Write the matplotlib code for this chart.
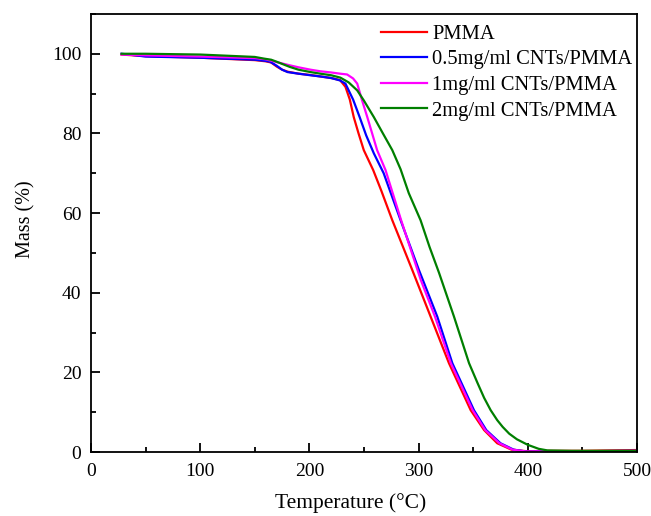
#!/usr/bin/env python3
"""TGA curves of PMMA and CNTs/PMMA composites."""

import matplotlib

matplotlib.use("Agg")
import matplotlib.pyplot as plt
from matplotlib.ticker import MultipleLocator

plt.rcParams["font.family"] = ["Liberation Serif", "DejaVu Serif"]

# PMMA
t_pmma = [28, 50, 100, 150, 160, 165, 170, 175, 180, 190, 200, 210, 220, 228, 233, 237,
          240.6, 245, 249.8, 258.4, 266, 275.9, 285, 294.2, 311, 327.8, 347.7, 360, 372,
          385, 399, 420, 450, 500]
m_pmma = [99.8, 99.4, 99.0, 98.4, 98.1, 97.8, 96.8, 96.0, 95.5, 95.0, 94.7, 94.3, 93.9,
          93.4, 91.7, 88.5, 84.1, 80.0, 75.8, 70.8, 65.5, 58.2, 52.0, 45.7, 34.0, 22.3,
          10.5, 5.5, 2.2, 0.6, 0.2, 0.3, 0.3, 0.5]

# 0.5 mg/ml CNTs/PMMA
t_05 = [28, 50, 100, 150, 160, 164, 170, 175, 180, 190, 201, 210, 220, 228, 233, 240, 246,
        252, 259, 268, 283.5, 300.3, 317.1, 330.9, 350.7, 362, 375, 387, 399, 420, 450, 500]
m_05 = [100.0, 99.3, 99.0, 98.5, 98.2, 98.0, 97.0, 96.0, 95.4, 95.0, 94.6, 94.3, 93.9,
        93.3, 92.5, 88.5, 84.1, 79.5, 75.0, 70.0, 58.2, 45.7, 34.0, 22.3, 10.5, 5.5, 2.2,
        0.6, 0.1, 0.2, 0.2, 0.3]

# 1 mg/ml CNTs/PMMA
t_1 = [28, 50, 100, 150, 160, 170, 182, 190, 201, 210, 220, 228, 234.5, 240, 243.8, 248,
       253, 262, 269.7, 284, 302, 315, 329.5, 349.5, 361, 374, 386, 399, 420, 450, 500]
m_1 = [99.8, 99.6, 99.3, 98.9, 98.6, 97.9, 97.1, 96.6, 96.0, 95.6, 95.3, 95.0, 94.8, 93.8,
       92.5, 88.5, 84.1, 75.8, 70.8, 58.2, 43.2, 34.0, 22.3, 10.5, 5.5, 2.2, 0.6, 0.1,
       0.2, 0.2, 0.3]

# 2 mg/ml CNTs/PMMA
t_2 = [28, 50, 100, 150, 158, 165, 170, 182, 190, 201, 210, 220, 228.4, 236, 243.8, 250,
       259, 267.3, 275.9, 283.5, 291, 301.8, 310, 318.7, 332.4, 346.2, 354, 360, 366, 372,
       377, 383, 390, 400, 410, 418, 440, 470, 500]
m_2 = [100.0, 100.0, 99.8, 99.2, 98.8, 98.5, 98.0, 96.7, 96.0, 95.4, 95.0, 94.6, 94.0,
       92.8, 90.8, 88.2, 84.1, 80.0, 75.8, 71.0, 65.0, 58.2, 51.5, 45.0, 34.0, 22.3, 17.3,
       13.6, 10.5, 8.0, 6.3, 4.6, 3.2, 1.8, 0.8, 0.4, 0.3, 0.3, 0.3]

fig = plt.figure(figsize=(6.51, 5.16), dpi=100)
ax = fig.add_axes([0.1398, 0.124, 0.8387, 0.849])

ax.plot(t_pmma, m_pmma, color="#ff0000", linewidth=1.6, label="PMMA")
ax.plot(t_05, m_05, color="#0000ff", linewidth=1.6, label="0.5mg/ml CNTs/PMMA")
ax.plot(t_1, m_1, color="#ff00ff", linewidth=1.6, label="1mg/ml CNTs/PMMA")
ax.plot(t_2, m_2, color="#007f00", linewidth=1.6, label="2mg/ml CNTs/PMMA")

ax.set_xlim(0, 500)
ax.set_ylim(0, 110)
ax.xaxis.set_major_locator(MultipleLocator(100))
ax.xaxis.set_minor_locator(MultipleLocator(50))
ax.yaxis.set_major_locator(MultipleLocator(20))
ax.yaxis.set_minor_locator(MultipleLocator(10))
ax.tick_params(which="both", direction="in", top=False, right=False, width=1.3,
               labelsize=14)
ax.tick_params(which="major", length=6.5)
ax.tick_params(which="minor", length=3.5)
ax.tick_params(axis="x", which="major", pad=8)
ax.tick_params(axis="y", which="major", pad=7)
for spine in ax.spines.values():
    spine.set_linewidth(1.3)

ax.set_xlabel("Temperature (°C)", fontsize=15.5, va="center")
ax.xaxis.set_label_coords(0.476, -0.116)
ax.set_ylabel("Mass (%)", fontsize=14.5, va="center")
ax.yaxis.set_label_coords(-0.12, 0.532)

ax.legend(loc="upper right", bbox_to_anchor=(1.003, 0.99), frameon=False, fontsize=14.8,
          handlelength=2.25, handletextpad=0.25, labelspacing=0.3, borderaxespad=0.1,
          borderpad=0.2)

fig.savefig("out.png", dpi=100)
